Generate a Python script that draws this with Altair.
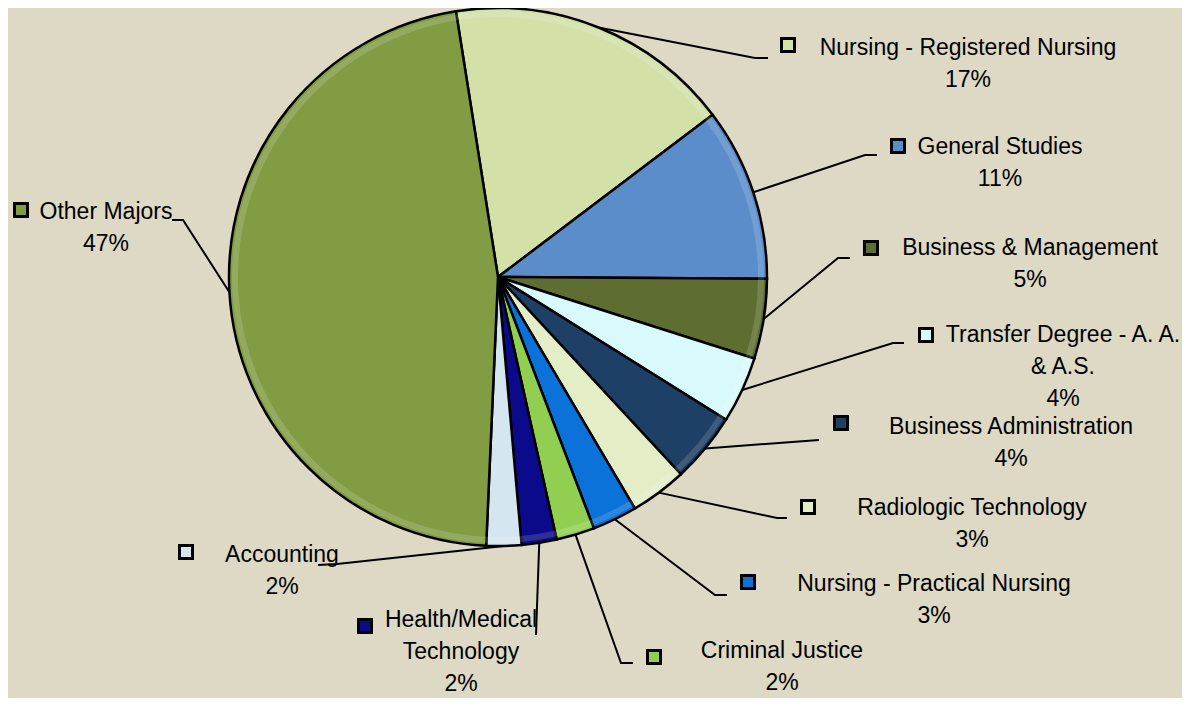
import math
import altair as alt
import pandas as pd

# ---------------- data ----------------
categories = [
    "Nursing - Registered Nursing", "General Studies", "Business & Management",
    "Transfer Degree - A. A. & A.S.", "Business Administration", "Radiologic Technology",
    "Nursing - Practical Nursing", "Criminal Justice", "Health/Medical Technology",
    "Accounting", "Other Majors",
]
values = [17.2, 10.4, 4.8, 4.0, 4.2, 3.4, 2.7, 2.3, 2.1, 2.1, 46.8]
pct_labels = ["17%", "11%", "5%", "4%", "4%", "3%", "3%", "2%", "2%", "2%", "47%"]
label_lines = [
    ["Nursing - Registered Nursing"], ["General Studies"], ["Business & Management"],
    ["Transfer Degree - A. A.", "& A.S."], ["Business Administration"], ["Radiologic Technology"],
    ["Nursing - Practical Nursing"], ["Criminal Justice"], ["Health/Medical", "Technology"],
    ["Accounting"], ["Other Majors"],
]

# ---------------- style / layout ----------------
colors = ["#d3e0a8", "#5b8dcb", "#5e6e31", "#d8fafc", "#1e3f66", "#e3eec6",
          "#0a72d8", "#92cf50", "#0a0a8a", "#d5e6f0", "#829c43"]
BG = "#ddd9c4"
OFF = 8                      # page margin
CX, CY, R = 498 - OFF, 277 - OFF, 269
START = math.radians(-9)
FONT = "Liberation Sans, Arial, sans-serif"
FS = 23
LH = 32
# label block: (text centre x, first line centre y) in page pixels
label_pos = [(968, 48), (1000, 147), (1030, 248), (1063, 335), (1011, 427), (972, 508),
             (934, 584), (782, 651), (461, 620), (282, 555), (106, 212)]
marker_pos = [(788, 45), (898, 146), (871, 248), (926, 335), (841, 423), (808, 507),
              (748, 582), (654, 657), (365, 626), (186, 552), (21, 210)]
# leader: elbow point and end point (page pixels)
leader_pts = [((755, 58), (768, 58)), ((865, 155), (877, 155)), ((838, 258), (850, 258)),
              ((893, 343), (904, 343)), ((819, 440), (819, 440)), ((777, 518), (787, 518)),
              ((715, 595), (727, 595)), ((621, 663), (633, 663)), ((536, 635), (536, 635)),
              ((337, 564), (318, 565)), ((183, 220), (172, 220))]

total = sum(values)
pie_df = pd.DataFrame({"category": categories, "value": values, "order": list(range(len(values)))})

# leader line table (start on pie rim at slice mid-angle)
rows = []
cum = 0.0
for i, (c, v) in enumerate(zip(categories, values)):
    mid = START + 2 * math.pi * (cum + v / 2) / total
    cum += v
    sx = CX + R * math.sin(mid)
    sy = CY - R * math.cos(mid)
    (ex, ey), (hx, hy) = leader_pts[i]
    rows += [
        {"category": c, "seq": 0, "px": sx, "py": sy},
        {"category": c, "seq": 1, "px": ex - OFF, "py": ey - OFF},
        {"category": c, "seq": 2, "px": hx - OFF, "py": hy - OFF},
    ]
lead_df = pd.DataFrame(rows)

text_rows = []
for i, c in enumerate(categories):
    lx, ly = label_pos[i]
    lines = label_lines[i] + [pct_labels[i]]
    for k, t in enumerate(lines):
        text_rows.append({"category": c, "txt": t, "px": lx - OFF, "py": ly - OFF + k * LH})
text_df = pd.DataFrame(text_rows)

mark_df = pd.DataFrame({"category": categories,
                        "px": [p[0] - OFF for p in marker_pos],
                        "py": [p[1] - OFF for p in marker_pos]})

color_scale = alt.Scale(domain=categories, range=colors)
theta_scale = alt.Scale(domain=[0, total], nice=False, range=[START, START + 2 * math.pi])

pie = alt.Chart(pie_df).mark_arc(radius=R, stroke="black", strokeWidth=2.5).encode(
    theta=alt.Theta("value:Q", stack=True, scale=theta_scale),
    color=alt.Color("category:N", scale=color_scale, legend=None),
    order=alt.Order("order:Q"),
    x=alt.value(CX), y=alt.value(CY),
)

# soft bevel highlight near the rim
bevel = alt.Chart(pie_df).mark_arc(radius=R - 3, innerRadius=R - 9, strokeWidth=0,
                                   fill="white", opacity=0.15).encode(
    theta=alt.Theta("value:Q", stack=True, scale=theta_scale),
    order=alt.Order("order:Q"),
    detail="category:N",
    x=alt.value(CX), y=alt.value(CY),
)

leaders = alt.Chart(lead_df).mark_line(color="black", strokeWidth=2).encode(
    x=alt.X("px:Q", scale=None, axis=None),
    y=alt.Y("py:Q", scale=None, axis=None),
    detail="category:N",
    order="seq:Q",
)

markers = alt.Chart(mark_df).mark_square(size=169, stroke="black", strokeWidth=3,
                                         opacity=1, filled=True).encode(
    x=alt.X("px:Q", scale=None, axis=None),
    y=alt.Y("py:Q", scale=None, axis=None),
    fill=alt.Fill("category:N", scale=color_scale, legend=None),
)

texts = alt.Chart(text_df).mark_text(font=FONT, fontSize=FS, color="black",
                                     align="center", baseline="middle").encode(
    x=alt.X("px:Q", scale=None, axis=None),
    y=alt.Y("py:Q", scale=None, axis=None),
    text="txt:N",
)

chart = alt.layer(pie, bevel, leaders, markers, texts).properties(
    width=1174, height=690,
    autosize=alt.AutoSizeParams(type="none"),
    padding=0,
    background=BG,
).configure_view(stroke=None)

chart.save("out.html", embed_options={"renderer": "svg", "actions": False})
